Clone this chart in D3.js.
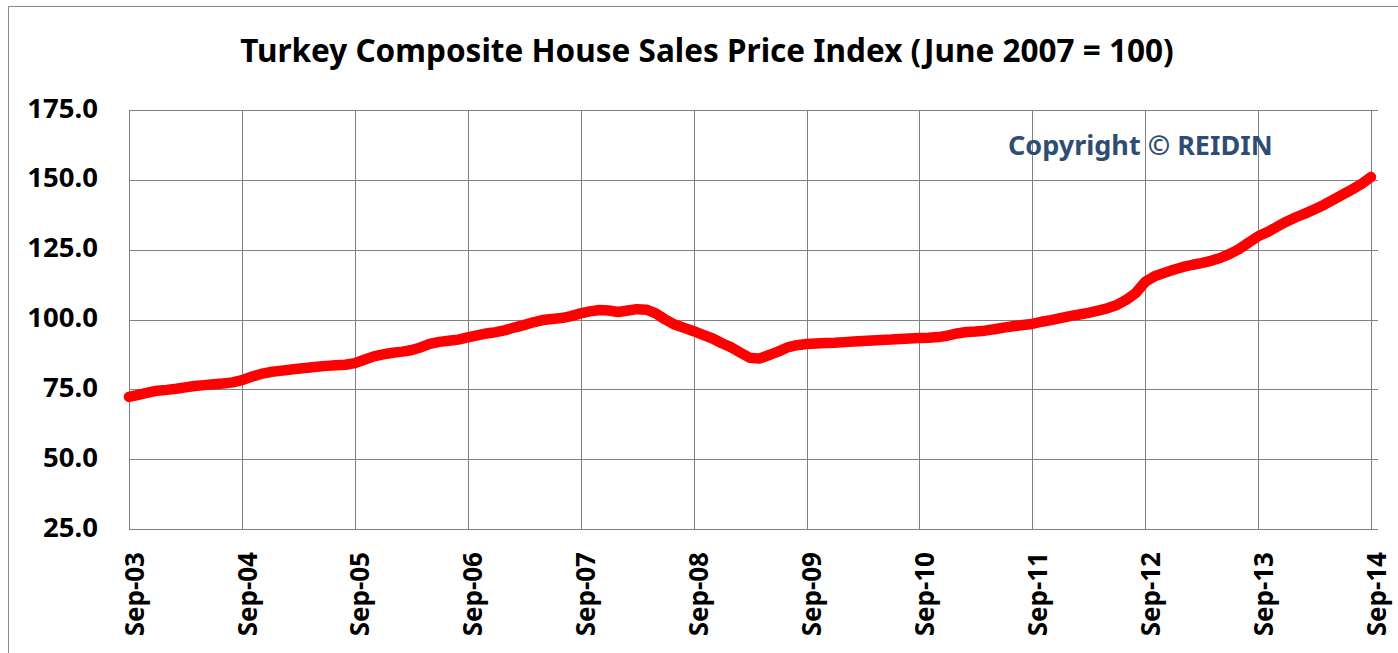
<!DOCTYPE html>
<html>
<head>
<meta charset="utf-8">
<script src="https://cdn.jsdelivr.net/npm/d3@7"></script>
<style>
  body { margin: 0; background: #fff; }
  text { font-family: "Noto Sans", "Open Sans", sans-serif; font-weight: bold; }
</style>
</head>
<body>
<script>
// chart text
var title = "Turkey Composite House Sales Price Index (June 2007 = 100)";
var note = "Copyright \u00a9 REIDIN";

// monthly index, Sep-03 .. Sep-14
var startMonth = "2003-09";
var values = [
  72.3, 73.0, 73.8, 74.5, 74.8, 75.2, 75.7, 76.2, 76.5, 76.8, 77.1, 77.5,
  78.3, 79.5, 80.5, 81.2, 81.6, 82.0, 82.4, 82.7, 83.1, 83.4, 83.6, 83.8,
  84.4, 85.6, 86.8, 87.5, 88.1, 88.5, 89.0, 90.0, 91.3, 92.0, 92.4, 92.8,
  93.6, 94.3, 95.0, 95.5, 96.2, 97.2, 98.0, 99.0, 99.8, 100.2, 100.5, 101.2,
  102.2, 102.9, 103.4, 103.2, 102.7, 103.2, 103.7, 103.5, 102.2, 100.0, 98.2, 97.0,
  95.8, 94.5, 93.2, 91.5, 90.0, 88.0, 86.3, 86.0, 87.2, 88.5, 90.0, 90.8,
  91.2, 91.4, 91.6, 91.7, 91.9, 92.1, 92.3, 92.5, 92.7, 92.8, 93.0, 93.2,
  93.4, 93.5, 93.7, 94.2, 95.0, 95.5, 95.7, 96.0, 96.5, 97.1, 97.6, 98.0,
  98.4, 99.2, 99.8, 100.5, 101.2, 101.8, 102.4, 103.2, 104.0, 105.2, 107.0, 109.5,
  113.5, 115.5, 116.7, 117.8, 118.8, 119.6, 120.2, 121.0, 122.0, 123.5, 125.2, 127.5,
  129.8, 131.3, 133.2, 135.0, 136.6, 138.0, 139.4, 141.0, 142.8, 144.7, 146.5, 148.5,
  151.0
];

// axis ticks
var xTickDates = ["2003-09", "2004-09", "2005-09", "2006-09", "2007-09", "2008-09",
                  "2009-09", "2010-09", "2011-09", "2012-09", "2013-09", "2014-09"];
var yTicks = [25, 50, 75, 100, 125, 150, 175];

var parseMonth = d3.timeParse("%Y-%m");
var start = parseMonth(startMonth);
var data = values.map(function(v, i) {
  return { date: d3.timeMonth.offset(start, i), value: v };
});

var W = 1398, H = 653;
var plot = { left: 129, right: 1371, top: 110, bottom: 529 };

var svg = d3.select("body").append("svg")
    .attr("width", W)
    .attr("height", H);

svg.append("rect")
    .attr("width", W).attr("height", H)
    .attr("fill", "#fff");

// outer chart border
svg.append("rect")
    .attr("x", 8.5).attr("y", 6.5)
    .attr("width", W).attr("height", H)
    .attr("fill", "none")
    .attr("stroke", "#8c8c8c");

var x = d3.scaleTime()
    .domain([start, parseMonth(xTickDates[xTickDates.length - 1])])
    .range([plot.left, plot.right]);
var y = d3.scaleLinear()
    .domain([25, 175])
    .range([plot.bottom, plot.top]);

// horizontal gridlines
svg.append("g").selectAll("line")
    .data(yTicks)
  .enter().append("line")
    .attr("x1", plot.left).attr("x2", plot.right + 7)
    .attr("y1", function(d) { return Math.round(y(d)) + 0.5; })
    .attr("y2", function(d) { return Math.round(y(d)) + 0.5; })
    .attr("stroke", "#808080");

// vertical gridlines
svg.append("g").selectAll("line")
    .data(xTickDates.map(parseMonth))
  .enter().append("line")
    .attr("x1", function(d) { return Math.round(x(d)) + 0.5; })
    .attr("x2", function(d) { return Math.round(x(d)) + 0.5; })
    .attr("y1", plot.top).attr("y2", plot.bottom)
    .attr("stroke", "#808080");

// y axis labels
var yAxis = svg.append("g")
    .attr("transform", "translate(" + plot.left + ",0)")
    .call(d3.axisLeft(y).tickValues(yTicks).tickSize(0).tickPadding(31)
      .tickFormat(d3.format(".1f")));
yAxis.select(".domain").remove();
yAxis.selectAll("text")
    .attr("dy", "7px")
    .style("font-size", "27.5px")
    .attr("fill", "#000");

// x axis labels, rotated
var xAxis = svg.append("g")
    .attr("transform", "translate(0," + plot.bottom + ")")
    .call(d3.axisBottom(x).tickValues(xTickDates.map(parseMonth)).tickSize(0)
      .tickFormat(d3.timeFormat("%b-%y")));
xAxis.select(".domain").remove();
xAxis.selectAll("text")
    .attr("transform", "rotate(-90)")
    .attr("text-anchor", "end")
    .attr("x", -23)
    .attr("y", 14)
    .attr("dy", null)
    .style("font-size", "26px")
    .attr("fill", "#000");

// the index line
var line = d3.line()
    .x(function(d) { return x(d.date); })
    .y(function(d) { return y(d.value); });

svg.append("path")
    .datum(data)
    .attr("d", line)
    .attr("fill", "none")
    .attr("stroke", "#ff0000")
    .attr("stroke-width", 10.5)
    .attr("stroke-linejoin", "round")
    .attr("stroke-linecap", "round");

// title
svg.append("text")
    .attr("x", 707)
    .attr("y", 62)
    .attr("text-anchor", "middle")
    .style("font-size", "31.5px")
    .attr("fill", "#000")
    .text(title);

// copyright note
svg.append("text")
    .attr("x", 1008)
    .attr("y", 155)
    .style("font-size", "27px")
    .attr("fill", "#2e4d72")
    .text(note);
</script>
</body>
</html>
